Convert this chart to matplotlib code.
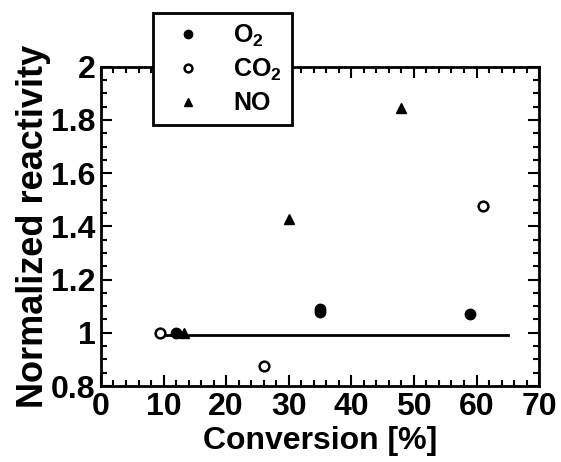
import matplotlib
matplotlib.use("Agg")
import matplotlib.pyplot as plt
from matplotlib.ticker import MultipleLocator, FormatStrFormatter

plt.rcParams['font.family'] = ['Liberation Sans', 'DejaVu Sans']
plt.rcParams['font.weight'] = 'bold'
plt.rcParams['mathtext.fontset'] = 'custom'
plt.rcParams['mathtext.bf'] = 'Liberation Sans:bold'
plt.rcParams['mathtext.rm'] = 'Liberation Sans:bold'

# data
o2_x = [12, 35, 35, 59]
o2_y = [1.0, 1.08, 1.088, 1.07]
co2_x = [9.5, 26, 61]
co2_y = [1.0, 0.875, 1.475]
no_x = [13.2, 30, 48]
no_y = [1.0, 1.428, 1.845]
ref_x = [9, 65]
ref_y = [0.99, 0.99]

fig = plt.figure(figsize=(5.61, 4.62), dpi=100)
ax = fig.add_axes([0.18, 0.1645, 0.781, 0.691])

ax.plot(ref_x, ref_y, color='black', lw=2)
ax.plot(o2_x, o2_y, 'o', color='black', ms=7.5, label=r'$\mathbf{O_2}$')
ax.plot(co2_x, co2_y, 'o', mfc='white', mec='black', mew=1.8, ms=7, label=r'$\mathbf{CO_2}$')
ax.plot(no_x, no_y, '^', color='black', ms=7, label='NO')

ax.set_xlim(0, 70)
ax.set_ylim(0.8, 2)
ax.xaxis.set_major_locator(MultipleLocator(10))
ax.xaxis.set_minor_locator(MultipleLocator(2))
ax.yaxis.set_major_locator(MultipleLocator(0.2))
ax.yaxis.set_minor_locator(MultipleLocator(0.05))
ax.yaxis.set_major_formatter(FormatStrFormatter('%g'))

ax.tick_params(which='both', direction='in', top=True, right=True, width=1.5,
               labelsize=23, pad=4)
ax.tick_params(which='major', length=8)
ax.tick_params(which='minor', length=4)
for lab in ax.get_xticklabels() + ax.get_yticklabels():
    lab.set_fontweight('bold')
for sp in ax.spines.values():
    sp.set_linewidth(2)

ax.set_xlabel('Conversion [%]', fontsize=23, fontweight='bold', labelpad=3)
ax.set_ylabel('Normalized reactivity', fontsize=26, fontweight='bold', labelpad=0)

leg = fig.legend(loc='upper left', bbox_to_anchor=(0.273, 0.972), borderaxespad=0,
                 fontsize=18, frameon=True, fancybox=False, framealpha=1,
                 edgecolor='black', handlelength=2.0, handletextpad=0.8,
                 borderpad=0.4, labelspacing=0.32, markerscale=0.8)
leg.get_frame().set_linewidth(2)

fig.savefig('out.png', dpi=100)
